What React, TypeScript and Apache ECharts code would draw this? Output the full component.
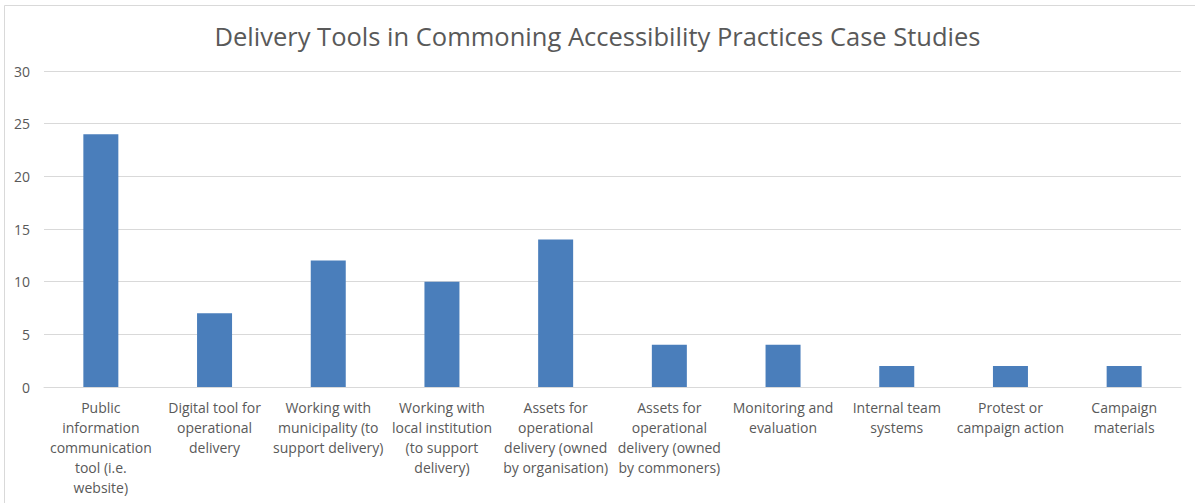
import React, { useEffect, useRef } from "react";
import * as echarts from "echarts";

const categories = [
  "Public\ninformation\ncommunication\ntool (i.e.\nwebsite)",
  "Digital tool for\noperational\ndelivery",
  "Working with\nmunicipality (to\nsupport delivery)",
  "Working with\nlocal institution\n(to support\ndelivery)",
  "Assets for\noperational\ndelivery (owned\nby organisation)",
  "Assets for\noperational\ndelivery (owned\nby commoners)",
  "Monitoring and\nevaluation",
  "Internal team\nsystems",
  "Protest or\ncampaign action",
  "Campaign\nmaterials",
];
const values = [24, 7, 12, 10, 14, 4, 4, 2, 2, 2];
const titleText = "Delivery Tools in Commoning Accessibility Practices Case Studies";

export default function App() {
  const ref = useRef<HTMLDivElement>(null);
  useEffect(() => {
    const chart = echarts.init(ref.current!, null, { renderer: "svg" });
    chart.setOption({
      animation: false,
      backgroundColor: "#ffffff",
      textStyle: { fontFamily: "Open Sans" },
      title: {
        text: titleText,
        left: "center",
        top: 18,
        textStyle: { fontFamily: "Open Sans", fontSize: 25.5, fontWeight: "normal", color: "#595959" },
      },
      graphic: [
        {
          type: "rect",
          shape: { x: 4.5, y: 5.5, width: 1200, height: 600 },
          style: { fill: "none", stroke: "#d9d9d9", lineWidth: 1 },
          silent: true,
        },
      ],
      grid: { left: 44, right: 14, top: 71, bottom: 116, containLabel: false },
      xAxis: {
        type: "category",
        data: categories,
        axisTick: { show: false },
        axisLine: { lineStyle: { color: "#d9d9d9", width: 1 } },
        axisLabel: {
          interval: 0,
          margin: 10,
          color: "#595959",
          fontSize: 14,
          lineHeight: 20,
          fontFamily: "Open Sans",
        },
      },
      yAxis: {
        type: "value",
        min: 0,
        max: 30,
        interval: 5,
        axisLine: { show: false },
        axisTick: { show: false },
        splitLine: { lineStyle: { color: "#d9d9d9", width: 1 } },
        axisLabel: { color: "#595959", fontSize: 14, margin: 14, fontFamily: "Open Sans" },
      },
      series: [
        {
          type: "bar",
          data: values,
          barWidth: 35,
          itemStyle: { color: "#4a7ebb" },
        },
      ],
    });
    return () => chart.dispose();
  }, []);
  return (
    <div
      ref={ref}
      style={{ position: "absolute", left: 0, top: 0, width: 1195, height: 503 }}
    />
  );
}
